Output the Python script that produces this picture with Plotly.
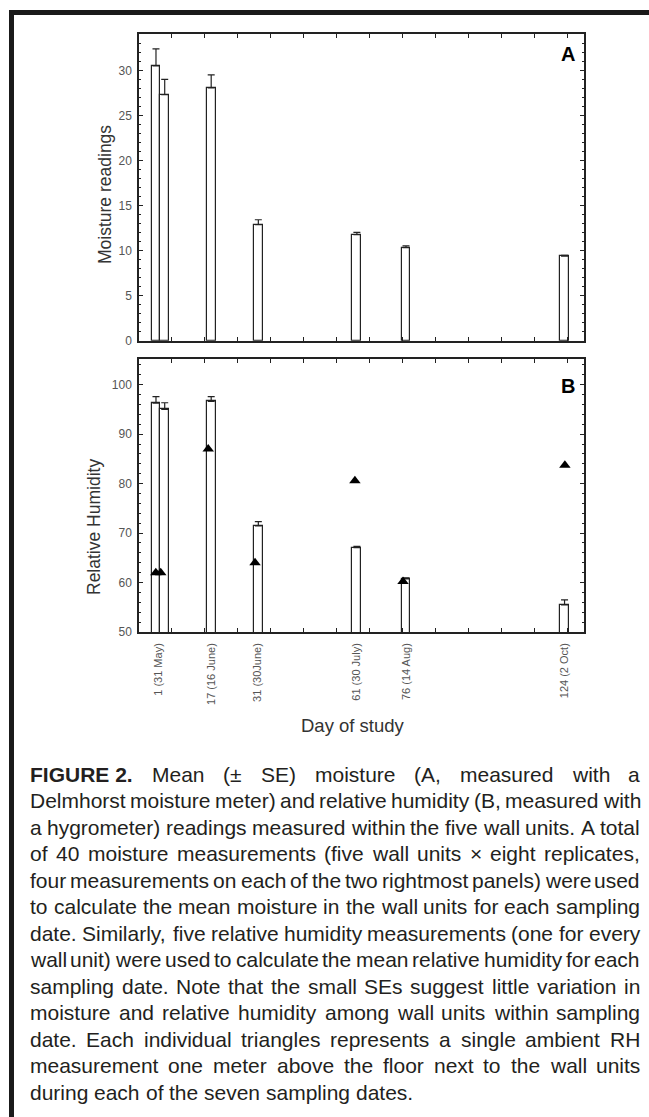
import plotly.graph_objects as go

# ---------------- data ----------------
bar_days = [0.15, 2.8, 16.9, 31.2, 61.1, 76.0, 124.1]
moisture_mean = [30.55, 27.35, 28.1, 12.9, 11.8, 10.35, 9.4]
moisture_se = [1.9, 1.7, 1.45, 0.55, 0.25, 0.2, 0.08]
rh_mean = [96.25, 95.0, 96.65, 71.45, 67.05, 60.75, 55.5]
rh_se = [1.35, 1.35, 0.95, 0.85, 0.25, 0.2, 1.0]
ambient_days = [0.1, 1.6, 16.0, 30.2, 60.5, 75.1, 124.2]
ambient_rh = [62.0, 62.0, 87.0, 64.0, 80.6, 60.2, 83.7]
label_days = [1, 17, 31, 61, 76, 124]
label_text = ["1 (31 May)", "17 (16 June)", "31 (30June)", "61 (30 July)",
              "76 (14 Aug)", "124 (2 Oct)"]

caption_lines = [
    "FIGURE 2.|Mean (± SE) moisture (A, measured with a",
    "Delmhorst moisture meter) and relative humidity (B, measured with",
    "a hygrometer) readings measured within the five wall units. A total",
    "of 40 moisture measurements (five wall units × eight replicates,",
    "four measurements on each of the two rightmost panels) were used",
    "to calculate the mean moisture in the wall units for each sampling",
    "date. Similarly, five relative humidity measurements (one for every",
    "wall unit) were used to calculate the mean relative humidity for each",
    "sampling date. Note that the small SEs suggest little variation in",
    "moisture and relative humidity among wall units within sampling",
    "date. Each individual triangles represents a single ambient RH",
    "measurement one meter above the floor next to the wall units",
    "during each of the seven sampling dates.",
]

# ---------------- geometry ----------------
W, H = 649, 1117
L, R, T, B = 139, 65, 34, 485
PW, PH = W - L - R, H - T - B
BOTTOM_PX = H - B


def px_x(px):
    return (px - L) / PW


def px_y(py):
    return (BOTTOM_PX - py) / PH


INK = "#222222"
GRAY = "#555555"
FONT = "Liberation Sans, Arial, Helvetica, sans-serif"
NARROW = "Liberation Sans Narrow, Arial Narrow, Liberation Sans, Arial, sans-serif"

fig = go.Figure()

bar_style = dict(marker=dict(color="white", line=dict(color=INK, width=1.2)),
                 width=2.7, showlegend=False, hoverinfo="skip")
err_style = dict(type="data", symmetric=False, color=INK, thickness=1.2, width=3.5)

fig.add_trace(go.Bar(x=bar_days, y=moisture_mean, xaxis="x", yaxis="y",
                     error_y=dict(array=moisture_se, arrayminus=[0] * len(moisture_se), **err_style),
                     **bar_style))
fig.add_trace(go.Bar(x=bar_days, y=rh_mean, xaxis="x2", yaxis="y2",
                     error_y=dict(array=rh_se, arrayminus=[0] * len(rh_se), **err_style),
                     **bar_style))
fig.add_trace(go.Scatter(x=ambient_days, y=ambient_rh, xaxis="x2", yaxis="y2",
                         mode="markers", showlegend=False, hoverinfo="skip",
                         marker=dict(symbol="triangle-up", size=10, color="black")))
# invisible trace to activate the label axis
fig.add_trace(go.Scatter(x=label_days, y=[50] * len(label_days), xaxis="x3", yaxis="y2",
                         mode="markers", marker=dict(opacity=0), showlegend=False,
                         hoverinfo="skip"))

xcommon = dict(range=[-5, 130], tickmode="linear", tick0=5, dtick=10, ticks="inside",
               ticklen=4, tickwidth=1, tickcolor=INK, showticklabels=False,
               showline=True, linecolor=INK, linewidth=1.5, mirror="ticks",
               showgrid=False, zeroline=False)
ycommon = dict(ticks="inside", ticklen=4, tickwidth=1, tickcolor=INK,
               showline=True, linecolor=INK, linewidth=1.5, mirror="ticks",
               showgrid=False, zeroline=False,
               tickfont=dict(family=NARROW, size=12, color=GRAY),
               ticklabelstandoff=3)

dom_a = [px_y(340.7), 1.0]
dom_b = [0.0, px_y(359)]

fig.update_layout(
    width=W, height=H,
    margin=dict(l=L, r=R, t=T, b=B, pad=0, autoexpand=False),
    paper_bgcolor="white", plot_bgcolor="white",
    bargap=0, barmode="overlay",
    xaxis=dict(anchor="y", domain=[0, 1], **xcommon),
    yaxis=dict(anchor="x", domain=dom_a, range=[0, 34.1], tickmode="linear",
               tick0=0, dtick=5,
               minor=dict(tick0=0, dtick=1, ticks="inside", ticklen=2.5, tickcolor=INK),
               **ycommon),
    xaxis2=dict(anchor="y2", domain=[0, 1], **xcommon),
    yaxis2=dict(anchor="x2", domain=dom_b, range=[50, 105.2], tickmode="linear",
                tick0=50, dtick=10,
                minor=dict(tick0=50, dtick=2, ticks="inside", ticklen=2.5, tickcolor=INK),
                **ycommon),
    xaxis3=dict(overlaying="x2", anchor="y2", range=[-5, 130], tickmode="array",
                tickvals=label_days, ticktext=label_text, tickangle=-90, ticks="",
                showline=False, showgrid=False, zeroline=False,
                tickfont=dict(family=FONT, size=11, color=GRAY),
                ticklabelstandoff=8),
)

ann = []


def add_text(px, py, text, size, color=INK, angle=0, xanchor="center", bold=False,
             family=FONT):
    ann.append(dict(x=px_x(px), y=px_y(py), xref="paper", yref="paper",
                    text=f"<b>{text}</b>" if bold else text, showarrow=False,
                    textangle=angle, xanchor=xanchor, yanchor="middle",
                    font=dict(family=family, size=size, color=color),
                    borderpad=0, borderwidth=0))


add_text(105, 195, "Moisture readings", 17.5, color="#333333", angle=-90)
add_text(94, 527, "Relative Humidity", 17.5, color="#333333", angle=-90)
add_text(353, 725, "Day of study", 18.5, color="#333333")
add_text(568, 54, "A", 20, color="black", bold=True)
add_text(568, 386, "B", 20, color="black", bold=True)

# ---------------- justified caption ----------------
REG = {' ': 278, '!': 278, '"': 355, '%': 889, '&': 667, "'": 191, '(': 333, ')': 333,
       '*': 389, '+': 584, ',': 278, '-': 333, '.': 278, '/': 278, ':': 278, ';': 278,
       '?': 556, 'A': 667, 'B': 667, 'C': 722, 'D': 722, 'E': 667, 'F': 611, 'G': 778,
       'H': 722, 'I': 278, 'J': 500, 'K': 667, 'L': 556, 'M': 833, 'N': 722, 'O': 778,
       'P': 667, 'Q': 778, 'R': 722, 'S': 667, 'T': 611, 'U': 722, 'V': 667, 'W': 944,
       'X': 667, 'Y': 667, 'Z': 611, 'a': 556, 'b': 556, 'c': 500, 'd': 556, 'e': 556,
       'f': 278, 'g': 556, 'h': 556, 'i': 222, 'j': 222, 'k': 500, 'l': 222, 'm': 833,
       'n': 556, 'o': 556, 'p': 556, 'q': 556, 'r': 333, 's': 500, 't': 278, 'u': 556,
       'v': 500, 'w': 722, 'x': 500, 'y': 500, 'z': 500, '±': 584, '×': 584}
BOLD = {'F': 611, 'I': 278, 'G': 778, 'U': 722, 'R': 722, 'E': 667, ' ': 278, '.': 278}


def em(word, bold=False):
    tab = BOLD if bold else REG
    return sum(tab.get(c, 556) for c in word) / 1000.0


CAP_LEFT, CAP_RIGHT = 30.0, 640.0
CAP_W = CAP_RIGHT - CAP_LEFT
CAP_TOP, CAP_STEP = 774.0, 26.5

parsed = []
for line in caption_lines:
    if "|" in line:
        b, rest = line.split("|")
        words = [(b, True)] + [(w, False) for w in rest.split(" ")]
    else:
        words = [(w, False) for w in line.split(" ")]
    parsed.append(words)

fsize = 21.0
for words in parsed[:-1]:
    tot = sum(em(w, bd) for w, bd in words)
    fsize = min(fsize, (CAP_W - 3.0 * (len(words) - 1)) / tot)

for i, words in enumerate(parsed):
    py = CAP_TOP + i * CAP_STEP
    widths = [em(w, bd) * fsize for w, bd in words]
    if i < len(parsed) - 1:
        gap = (CAP_W - sum(widths)) / (len(words) - 1)
    else:
        gap = 0.278 * fsize
    x = CAP_LEFT
    for (w, bd), wd in zip(words, widths):
        add_text(x, py, w, fsize, color="#231f20", xanchor="left", bold=bd)
        x += wd + gap

fig.update_layout(annotations=ann)

# outer frame (left and top edges of the figure box)
fig.update_layout(shapes=[
    dict(type="line", xref="paper", yref="paper", x0=px_x(11.5), x1=px_x(11.5),
         y0=px_y(10), y1=px_y(1130), line=dict(color="#1a1a1a", width=5)),
    dict(type="line", xref="paper", yref="paper", x0=px_x(9), x1=px_x(660),
         y0=px_y(12.5), y1=px_y(12.5), line=dict(color="#1a1a1a", width=5)),
])

fig.write_html(
    "out.html",
    config={"displayModeBar": False},
    post_script="document.body.style.margin='0';document.body.style.overflow='hidden';"
                "document.documentElement.style.overflow='hidden';",
)
